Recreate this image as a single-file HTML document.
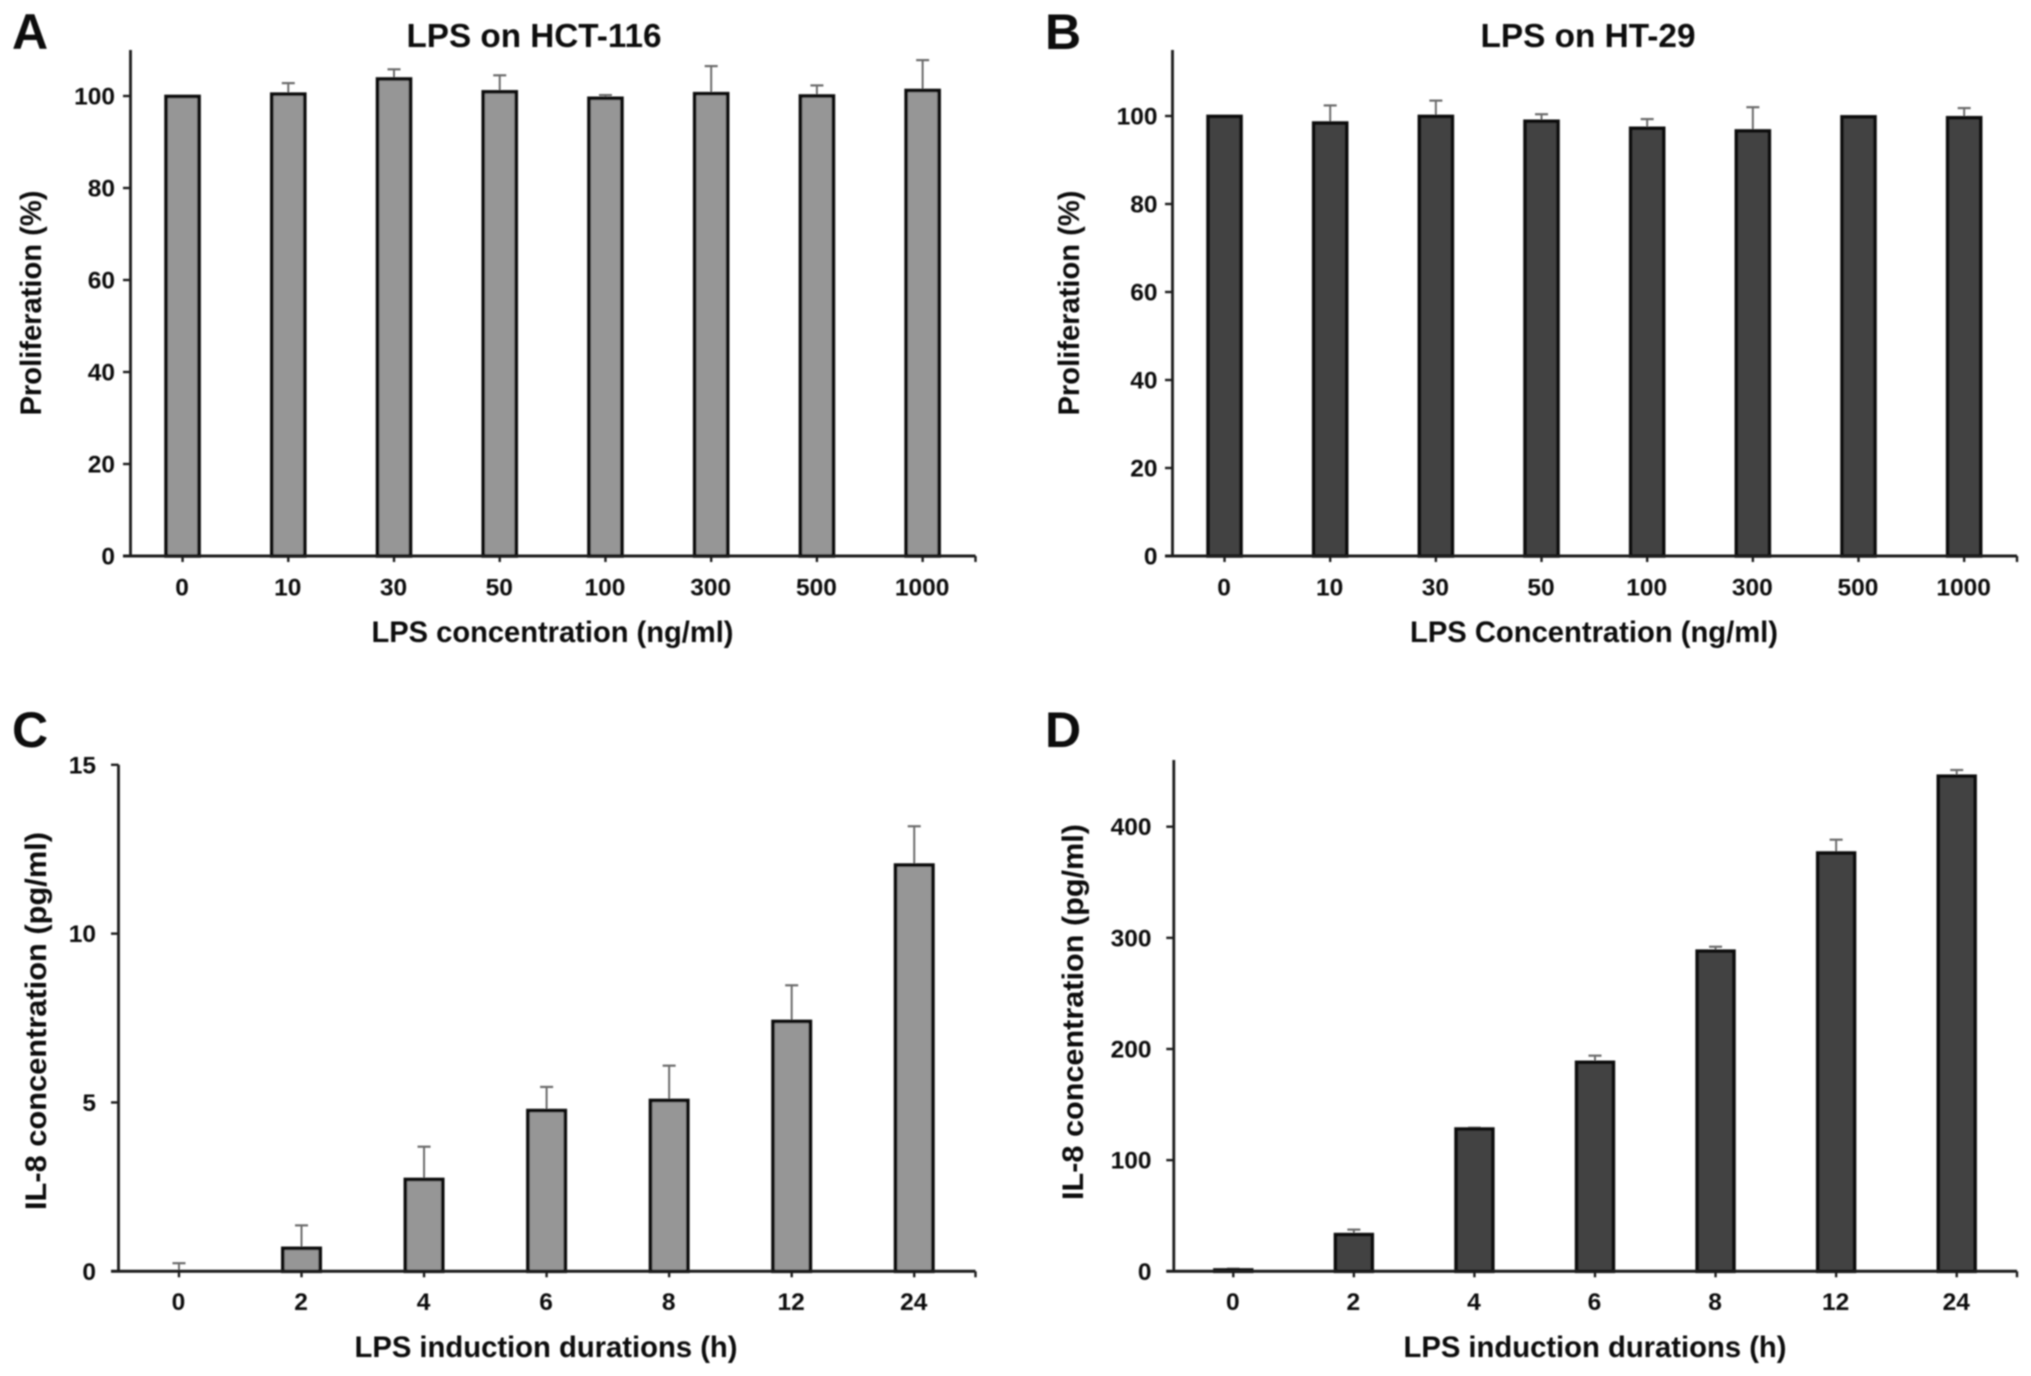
<!DOCTYPE html>
<html lang="en">
<head>
<meta charset="utf-8">
<title>LPS proliferation and IL-8 bar charts</title>
<style>
  html, body { margin: 0; padding: 0; background: #fff; }
  svg { display: block; }
  text { font-family: "Liberation Sans", Arial, sans-serif; font-weight: bold; fill: #111; }
  .letter { font-size: 50px; fill: #0a0a0a; }
  .title { font-size: 33px; text-anchor: middle; }
  .axis-title { font-size: 29.5px; text-anchor: middle; }
</style>
</head>
<body>
<svg id="figure" xmlns="http://www.w3.org/2000/svg" width="2031" height="1376" viewBox="0 0 2031 1376">
  <defs>
    <filter id="soft" filterUnits="userSpaceOnUse" x="0" y="0" width="2031" height="1376">
      <feGaussianBlur stdDeviation="0.75"/>
    </filter>
  </defs>
  <rect width="2031" height="1376" fill="#fff"/>
  <g id="root" filter="url(#soft)">
    <g id="panel-a">
      <text class="letter" x="12" y="49">A</text>
      <text class="title" x="534" y="47" textLength="255" lengthAdjust="spacingAndGlyphs">LPS on HCT-116</text>
      <text class="axis-title" x="552.5" y="642" textLength="362" lengthAdjust="spacingAndGlyphs">LPS concentration (ng/ml)</text>
      <text class="axis-title" transform="translate(41 303) rotate(-90)" textLength="225" lengthAdjust="spacingAndGlyphs">Proliferation (%)</text>
    </g>
    <g id="panel-b">
      <text class="letter" x="1045" y="49">B</text>
      <text class="title" x="1588" y="47" textLength="215" lengthAdjust="spacingAndGlyphs">LPS on HT-29</text>
      <text class="axis-title" x="1594" y="642" textLength="368" lengthAdjust="spacingAndGlyphs">LPS Concentration (ng/ml)</text>
      <text class="axis-title" transform="translate(1079 303) rotate(-90)" textLength="225" lengthAdjust="spacingAndGlyphs">Proliferation (%)</text>
    </g>
    <g id="panel-c">
      <text class="letter" x="12" y="747">C</text>
      <text class="axis-title" x="546" y="1357" textLength="383" lengthAdjust="spacingAndGlyphs">LPS induction durations (h)</text>
      <text class="axis-title" transform="translate(46 1021) rotate(-90)" textLength="378" lengthAdjust="spacingAndGlyphs">IL-8 concentration (pg/ml)</text>
    </g>
    <g id="panel-d">
      <text class="letter" x="1045" y="747">D</text>
      <text class="axis-title" x="1595" y="1357" textLength="383" lengthAdjust="spacingAndGlyphs">LPS induction durations (h)</text>
      <text class="axis-title" transform="translate(1083 1012) rotate(-90)" textLength="376" lengthAdjust="spacingAndGlyphs">IL-8 concentration (pg/ml)</text>
    </g>
  </g>
</svg>
<script>
// Chart data
var concentrationCategories = ['0', '10', '30', '50', '100', '300', '500', '1000'];
var durationCategories = ['0', '2', '4', '6', '8', '12', '24'];

var panelAValues = [99.9, 100.4, 103.7, 100.9, 99.5, 100.5, 100, 101.2];
var panelAErrors = [0, 2.4, 2.1, 3.6, 0.7, 6, 2.3, 6.6];
var panelATicks = [0, 20, 40, 60, 80, 100];

var panelBValues = [99.9, 98.4, 99.9, 98.8, 97.2, 96.6, 99.8, 99.6];
var panelBErrors = [0, 4, 3.6, 1.6, 2.1, 5.4, 0, 2.2];
var panelBTicks = [0, 20, 40, 60, 80, 100];

var panelCValues = [0, 0.68, 2.72, 4.76, 5.06, 7.4, 12.03];
var panelCErrors = [0.24, 0.68, 0.97, 0.7, 1.03, 1.07, 1.15];
var panelCTicks = [0, 5, 10, 15];

var panelDValues = [1.2, 33, 128, 188, 288, 376.3, 445.4];
var panelDErrors = [1.2, 4.5, 1.2, 6, 4, 12, 5.6];
var panelDTicks = [0, 100, 200, 300, 400];

var SVG_NS = 'http://www.w3.org/2000/svg';

function make(parent, tag, attrs, text) {
  var el = document.createElementNS(SVG_NS, tag);
  for (var key in attrs) {
    el.setAttribute(key, attrs[key]);
  }
  if (text !== undefined) {
    el.textContent = text;
  }
  parent.appendChild(el);
  return el;
}

function linearScale(domainMax, bottom, top) {
  return function (v) { return bottom - (v / domainMax) * (bottom - top); };
}

function bandScale(count, left, right) {
  var band = (right - left) / count;
  var scale = function (i) { return left + band * (i + 0.5); };
  scale.band = band;
  return scale;
}

function drawBarChart(panelId, prefix, categories, values, errors, ticks, domainMax, box, fill) {
  var group = document.getElementById(panelId);
  var y = linearScale(domainMax, box.bottom, box.top);
  var x = bandScale(categories.length, box.axisX - 0.8, box.xEnd);
  var barWidth = x.band * box.barRatio;
  var axisColor = '#1c1c1c';

  // Error bars
  values.forEach(function (value, i) {
    if (errors[i] <= 0) { return; }
    var cx = x(i);
    var stem = make(group, 'line', { x1: cx, x2: cx, y1: y(value), y2: y(value + errors[i]), stroke: '#6c6c6c', 'stroke-width': 2 });
    
    
    var cap = make(group, 'line', { x1: cx - 6.5, x2: cx + 6.5, y1: y(value + errors[i]), y2: y(value + errors[i]), stroke: '#6c6c6c', 'stroke-width': 2.2 });
    
    
  });

  // Bars
  values.forEach(function (value, i) {
    var bar = make(group, 'rect', {
      x: x(i) - barWidth / 2,
      y: y(value),
      width: barWidth,
      height: Math.max(0, box.bottom - y(value)),
      fill: fill,
      stroke: '#0e0e0e',
      'stroke-width': 3.6
    });
    
    
  });

  // Axes
  var yAxis = make(group, 'line', { x1: box.axisX, x2: box.axisX, y1: box.top, y2: box.bottom + 1, stroke: axisColor, 'stroke-width': 2.8 });
  
  
  var xAxis = make(group, 'line', { x1: box.axisX - 7.5, x2: box.xEnd, y1: box.bottom, y2: box.bottom, stroke: axisColor, 'stroke-width': 3 });
  
  
  var endTick = make(group, 'line', { x1: box.xEnd, x2: box.xEnd, y1: box.bottom, y2: box.bottom + 6, stroke: axisColor, 'stroke-width': 2.4 });
  
  

  // Y ticks and labels
  ticks.forEach(function (tick) {
    var tickLine = make(group, 'line', { x1: box.axisX - 7.5, x2: box.axisX, y1: y(tick), y2: y(tick), stroke: axisColor, 'stroke-width': 2.4 });
    
    
    var label = make(group, 'text', { x: box.labelRight, y: y(tick) + 8.5, 'text-anchor': 'end', 'font-size': '24.5px' }, String(tick));
    
    
  });

  // X ticks and labels
  categories.forEach(function (category, i) {
    var tickLine = make(group, 'line', { x1: x(i), x2: x(i), y1: box.bottom, y2: box.bottom + 6, stroke: axisColor, 'stroke-width': 2.4 });
    
    
    var label = make(group, 'text', { x: x(i) - 0.5, y: box.labelBaseline, 'text-anchor': 'middle', 'font-size': '24.5px' }, category);
    
    
  });
}

drawBarChart('panel-a', 'panel-a', concentrationCategories, panelAValues, panelAErrors, panelATicks, 110,
  { axisX: 130.5, xEnd: 975.5, top: 50, bottom: 556, labelRight: 115, labelBaseline: 595.5, barRatio: 0.312 }, '#969696');
drawBarChart('panel-b', 'panel-b', concentrationCategories, panelBValues, panelBErrors, panelBTicks, 115,
  { axisX: 1172.5, xEnd: 2017, top: 50, bottom: 556, labelRight: 1157.5, labelBaseline: 595.5, barRatio: 0.312 }, '#434343');
drawBarChart('panel-c', 'panel-c', durationCategories, panelCValues, panelCErrors, panelCTicks, 15,
  { axisX: 118.5, xEnd: 975.5, top: 764.8, bottom: 1271.3, labelRight: 96, labelBaseline: 1310, barRatio: 0.305 }, '#969696');
drawBarChart('panel-d', 'panel-d', durationCategories, panelDValues, panelDErrors, panelDTicks, 460,
  { axisX: 1173.8, xEnd: 2017, top: 760, bottom: 1271.3, labelRight: 1151.5, labelBaseline: 1310, barRatio: 0.305 }, '#434343');
</script>
</body>
</html>
